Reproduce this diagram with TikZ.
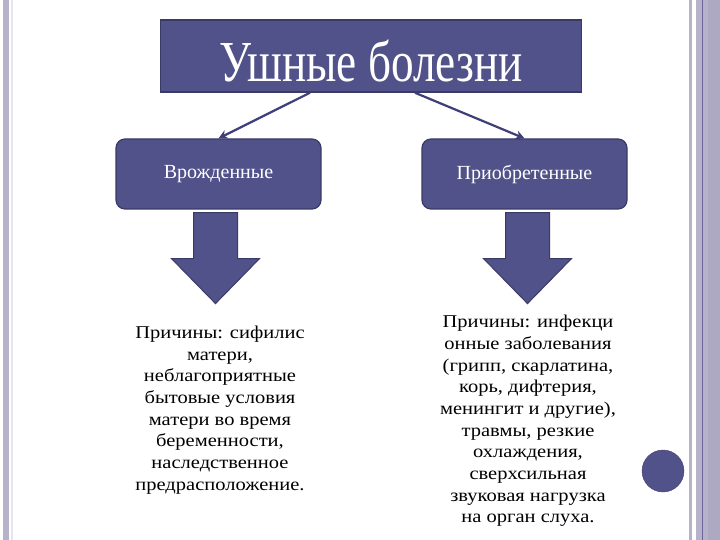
\documentclass[tikz,border=0pt]{standalone}
\usepackage{fontspec}
\setmainfont{Liberation Serif}
\usetikzlibrary{calc,arrows.meta}
\definecolor{boxfill}{HTML}{52528A}
\definecolor{boxline}{HTML}{3A3A66}
\definecolor{arrline}{HTML}{3E3E78}
\definecolor{band}{HTML}{B6B2CA}
\definecolor{banddark}{HTML}{ADA9C2}
\definecolor{thinline}{HTML}{6A6496}
\definecolor{faint}{HTML}{E6E4EE}
\tikzset{
  titlebox/.style={draw=boxline, line width=1.5pt, fill=boxfill, text=white, minimum width=421pt, minimum height=72pt, inner sep=0pt},
  titletext/.style={text=white, inner sep=0pt, font=\fontsize{58}{60}\selectfont},
  catbox/.style={draw=boxline, line width=1.2pt, fill=boxfill, text=white, rounded corners=9pt, minimum width=205pt, minimum height=70pt, inner sep=0pt, font=\fontsize{20}{23}\selectfont},
  conn/.style={draw=arrline, line width=2.2pt, -{Stealth[length=9pt,width=9pt]}},
  blockarrow/.style={draw=boxline, line width=1pt, fill=boxfill},
  causes/.style={inner sep=0pt},
  dot/.style={circle, fill=boxfill, draw=boxfill!80!black, line width=0.4pt, minimum size=42pt, inner sep=0pt}
}
\newcommand{\causelines}[1]{\fontsize{18}{21.7}\selectfont\scalebox{1.14}[1]{\begin{tabular}{@{}c@{}}#1\end{tabular}}}
\begin{document}
\begin{tikzpicture}[x=1pt,y=-1pt]
\useasboundingbox (0,0) rectangle (720,540);
\fill[white] (0,0) rectangle (720,540);
% slide borders
\fill[band] (3,0) rectangle (9,540);
\fill[faint] (11,0) rectangle (12.5,540);
\fill[band] (689,0) rectangle (692,540);
\fill[band] (696,0) rectangle (720,540);
\fill[banddark] (708,0) rectangle (720,540);
\fill[thinline] (702,0) rectangle (703.3,540);
% title
\node[titlebox] (title) at (371,56) {};
\node[titletext] (titletxt) at ($(title.center)+(0,5)$) {\scalebox{0.78}[1]{Ушные болезни}};
% category boxes
\node[catbox] (cong) at (218.5,174) {Врожденные};
\node[catbox] (acq) at (524.5,174) {Приобретенные};
% connectors
\draw[conn] ($(title.south)+(-61,0)$) -- (cong.north);
\draw[conn] ($(title.south)+(44,0)$) -- (acq.north);
% block arrows
\draw[blockarrow] ($(cong.south)+(-25,3)$) -- ++(0,46) -- ++(-22,0) -- ++(44,45) -- ++(44,-45) -- ++(-22,0) -- ++(0,-46) -- cycle;
\draw[blockarrow] ($(acq.south)+(-19,3)$) -- ++(0,46) -- ++(-22,0) -- ++(44,45) -- ++(44,-45) -- ++(-22,0) -- ++(0,-46) -- cycle;
% causes
\node[causes] (c1) at (220,410) {\causelines{Причины: сифилис\\матери,\\неблагоприятные\\бытовые условия\\матери во время\\беременности,\\наследственное\\предрасположение.}};
\node[causes] (c2) at (528,421) {\causelines{Причины: инфекци\\онные заболевания\\(грипп, скарлатина,\\корь, дифтерия,\\менингит и другие),\\травмы, резкие\\охлаждения,\\сверхсильная\\звуковая нагрузка\\на орган слуха.}};
% decorative dot
\node[dot] (d) at (663,471) {};
\end{tikzpicture}
\end{document}
